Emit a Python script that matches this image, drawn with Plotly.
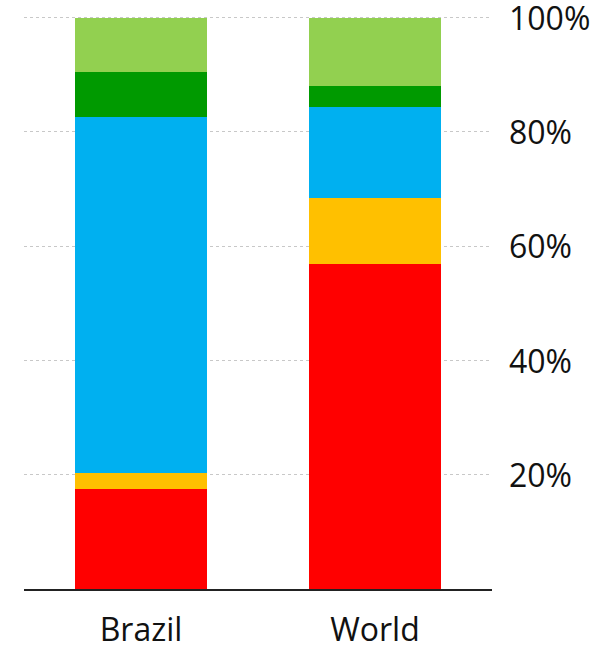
import plotly.graph_objects as go

categories = ["Brazil", "World"]
red_vals = [17.5, 56.9]
yellow_vals = [2.8, 11.5]
blue_vals = [62.4, 15.9]
darkgreen_vals = [7.8, 3.7]
lightgreen_vals = [9.5, 12.0]

tick_vals = [20, 40, 60, 80, 100]
tick_text = ["20%", "40%", "60%", "80%", "100%"]

series = [
    (red_vals, "#FF0000"),
    (yellow_vals, "#FFC000"),
    (blue_vals, "#00B0F0"),
    (darkgreen_vals, "#009A00"),
    (lightgreen_vals, "#92D050"),
]

fig = go.Figure()
for vals, col in series:
    fig.add_trace(go.Bar(x=categories, y=vals, marker=dict(color=col, line=dict(width=0)),
                         width=0.565, showlegend=False, hoverinfo="skip"))

fig.update_layout(
    barmode="stack",
    width=610, height=647,
    margin=dict(l=24, r=118, t=16, b=58, autoexpand=False),
    paper_bgcolor="white", plot_bgcolor="white",
    font=dict(family="Open Sans", size=32, color="#111"),
)
fig.update_xaxes(
    showline=True, linecolor="#222", linewidth=2,
    showgrid=False, ticks="", ticklabelstandoff=12, automargin=False,
    ticklabeloverflow="allow",
    tickfont=dict(size=32, color="#111"),
)
fig.update_yaxes(
    range=[0, 100.3], side="right",
    tickvals=tick_vals, ticktext=tick_text,
    showgrid=True, gridcolor="#c8c8c8", griddash="dot", gridwidth=1,
    zeroline=False, showline=False, ticks="", automargin=False,
    ticklabelstandoff=16, ticklabelshift=1, ticklabeloverflow="allow",
    tickfont=dict(size=32, color="#111"),
)
fig.write_html(
    "out.html",
    config={"displayModeBar": False},
    post_script="document.body.style.margin='0';document.body.style.overflow='hidden';",
)
